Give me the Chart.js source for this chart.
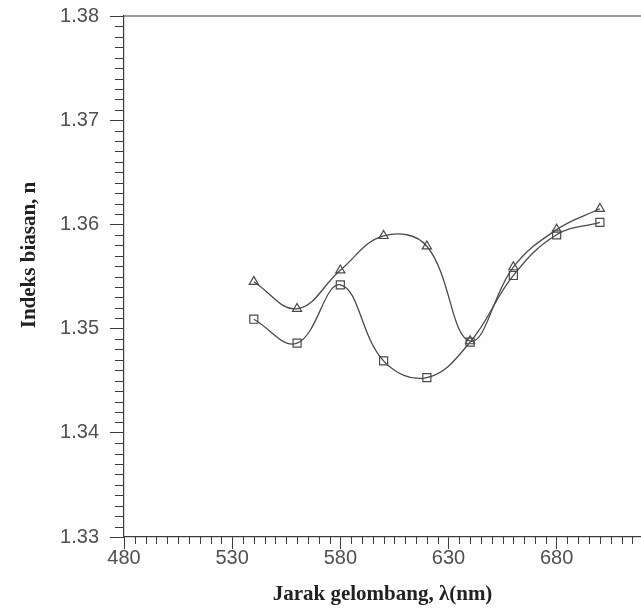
<!DOCTYPE html>
<html>
<head>
<meta charset="utf-8">
<script src="https://cdn.jsdelivr.net/npm/chart.js@4.4.0/dist/chart.umd.min.js"></script>
<style>
  html, body { margin:0; padding:0; background:#fff; overflow:hidden; }
  canvas { display:block; }
</style>
</head>
<body>
<canvas id="indeks" width="641" height="613"></canvas>
<script>
// Indeks biasan vs jarak gelombang: dua siri (segitiga & segiempat)
const panjangGelombang = [540, 560, 580, 600, 620, 640, 660, 680, 700];
const siriSegitiga = [1.3545, 1.3519, 1.3556, 1.3589, 1.3579, 1.3488, 1.3559, 1.3595, 1.3615];
const siriSegiempat = [1.3509, 1.3486, 1.3542, 1.3469, 1.3453, 1.3487, 1.3551, 1.3590, 1.3602];
const xTicks = [480, 530, 580, 630, 680];
const yTicks = [1.33, 1.34, 1.35, 1.36, 1.37, 1.38];

const INK = '#3c3c3c';
const LINE = '#4a4a4a';

function toPoints(ys){
  return panjangGelombang.map((x, i) => ({x, y: ys[i]}));
}

// tick kecil, garis atas dan tajuk paksi-y
const hiasan = {
  id: 'hiasan',
  afterDraw(chart){
    const {ctx, chartArea: a, scales: {x, y}} = chart;
    ctx.save();
    ctx.strokeStyle = INK;
    ctx.lineWidth = 1;
    ctx.beginPath();
    for(let v = 480; v <= x.max; v += 5){
      if((v - 480) % 50 === 0) continue;
      const px = Math.round(x.getPixelForValue(v)) + 0.5;
      ctx.moveTo(px, a.bottom); ctx.lineTo(px, a.bottom + 7);
    }
    for(let k = 0; k <= 50; k++){
      if(k % 10 === 0) continue;
      const py = Math.round(y.getPixelForValue(1.33 + k * 0.001)) + 0.5;
      ctx.moveTo(a.left - 9, py); ctx.lineTo(a.left, py);
    }
    ctx.stroke();
    ctx.lineWidth = 1.2;
    ctx.beginPath();
    ctx.moveTo(a.left, a.top); ctx.lineTo(chart.width, a.top);
    ctx.stroke();
    // tajuk paksi-y
    ctx.translate(30, 255);
    ctx.rotate(-Math.PI / 2);
    ctx.fillStyle = '#222';
    ctx.font = 'bold 21px "Liberation Serif"';
    ctx.textAlign = 'center';
    ctx.textBaseline = 'middle';
    ctx.fillText('Indeks biasan, n', 0, 0);
    ctx.restore();
  }
};

new Chart(document.getElementById('indeks'), {
  type: 'line',
  data: {
    datasets: [
      {data: toPoints(siriSegitiga), pointStyle: 'triangle', pointRadius: 5.3},
      {data: toPoints(siriSegiempat), pointStyle: 'rect', pointRadius: 5.7}
    ].map(d => Object.assign({
      borderColor: LINE, borderWidth: 1.3, tension: 0.4,
      pointBorderColor: LINE, pointBorderWidth: 1.2,
      pointBackgroundColor: 'rgba(0,0,0,0)', fill: false
    }, d))
  },
  options: {
    responsive: false, animation: false, devicePixelRatio: 1,
    layout: { autoPadding: false, padding: {top: 16, right: 0, left: 0, bottom: 0} },
    plugins: { legend: {display: false}, tooltip: {enabled: false} },
    scales: {
      x: {
        type: 'linear', min: 480, max: 719,
        afterBuildTicks: s => { s.ticks = xTicks.map(v => ({value: v})); },
        afterFit: s => { s.height = 76; s.paddingLeft = 0; s.paddingRight = 0; },
        ticks: { color: '#505050', font: {family: '"Liberation Sans"', size: 20}, padding: -3,
                 maxRotation: 0, autoSkip: false, callback: v => String(v) },
        grid: { drawOnChartArea: false, tickLength: 12, color: INK, lineWidth: 1 },
        border: { color: INK, width: 1.2 },
        title: { display: true, text: 'Jarak gelombang, λ(nm)', color: '#222',
                 font: {family: '"Liberation Serif"', size: 21, weight: 'bold'},
                 padding: {top: 0, bottom: 6} }
      },
      y: {
        min: 1.33, max: 1.38,
        afterBuildTicks: s => { s.ticks = yTicks.map(v => ({value: v})); },
        afterFit: s => { s.width = 124; s.paddingTop = 0; s.paddingBottom = 0; },
        ticks: { color: '#505050', font: {family: '"Liberation Sans"', size: 20}, padding: 11,
                 callback: v => v.toFixed(2) },
        grid: { drawOnChartArea: false, tickLength: 14, color: INK, lineWidth: 1 },
        border: { color: INK, width: 1.2 }
      }
    }
  },
  plugins: [hiasan]
});
</script>
</body>
</html>
